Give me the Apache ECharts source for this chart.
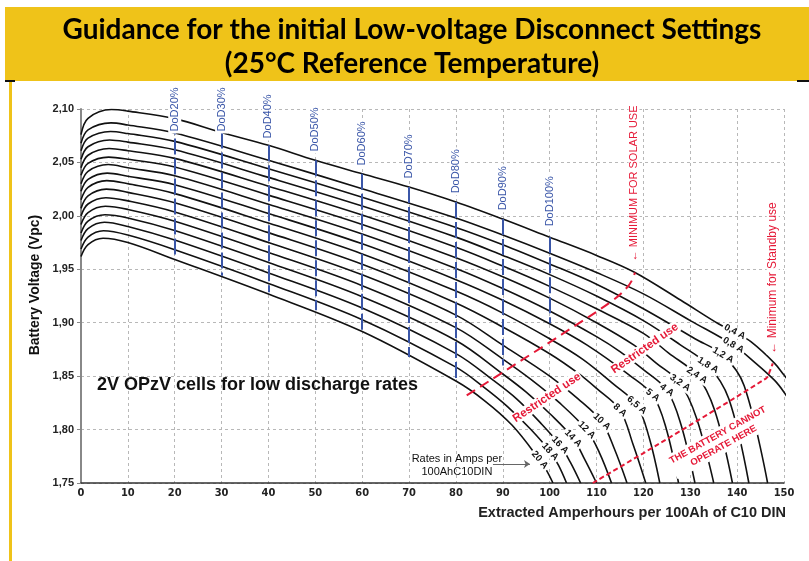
<!DOCTYPE html>
<html>
<head>
<meta charset="utf-8">
<script src="https://cdn.jsdelivr.net/npm/echarts@6/dist/echarts.min.js"></script>
<style>
  html, body { margin: 0; padding: 0; background: #fff; }
  #chart { width: 809px; height: 561px; }
</style>
</head>
<body>
<div id="chart"></div>
<script>
// discharge rates, one curve each (A per 100Ah C10)
var rates = ['0,4 A', '0,8 A', '1,2 A', '1,8 A', '2,4 A', '3,2 A', '4 A', '5 A',
  '6,5 A', '8 A', '10 A', '12 A', '14 A', '16 A', '18 A', '20 A'];

// [extracted Ah, cell voltage]
var c04 = [[0,2.076],[1.5,2.0913],[6.5,2.0995],[10,2.098],[20,2.091],[30,2.078],[40,2.066],[50,2.052],[60,2.0394],[70,2.027],[80,2.013],[90,1.997],[100,1.980],[110,1.963],[118,1.9475],[128,1.921],[136,1.899],[139.5,1.8914],[143,1.882],[148,1.862],[150,1.851],[153,1.835]];
var c08 = [[0,2.068],[1.5,2.0804],[6.4,2.087],[10,2.085],[20,2.0775],[40,2.052],[60,2.0254],[80,1.998],[90,1.982],[100,1.965],[110,1.947],[120,1.927],[130,1.902],[139.2,1.879],[144,1.862],[148,1.846],[150,1.835],[153,1.815]];
var c12 = [[0,2.061],[1.5,2.0727],[6.3,2.079],[10,2.077],[20,2.0697],[40,2.0441],[60,2.0174],[80,1.9892],[90,1.973],[100,1.955],[110,1.936],[120,1.913],[131,1.885],[137,1.8696],[141.5,1.841],[146.5,1.75]];
var c18 = [[0,2.053],[1.5,2.0647],[6.1,2.071],[10,2.069],[20,2.0618],[40,2.036],[60,2.0092],[80,1.9801],[90,1.963],[100,1.945],[110,1.925],[120,1.902],[127.8,1.8795],[133.8,1.8602],[138.2,1.829],[142.5,1.75]];
var c24 = [[0,2.045],[1.5,2.0567],[6,2.063],[10,2.061],[20,2.0538],[40,2.0278],[60,2.0007],[80,1.9706],[90,1.953],[100,1.934],[110,1.913],[120,1.890],[125.4,1.8715],[131.4,1.8508],[135.2,1.818],[139,1.75]];
var c32 = [[0,2.038],[1.5,2.0491],[5.9,2.055],[10,2.053],[20,2.0457],[40,2.0194],[60,1.992],[80,1.9609],[90,1.943],[100,1.923],[110,1.900],[118,1.879],[122.8,1.862],[127.8,1.8437],[131.4,1.81],[135,1.75]];
var c4 = [[0,2.030],[1.5,2.0417],[5.8,2.048],[10,2.045],[20,2.0375],[40,2.0109],[60,1.983],[80,1.9508],[90,1.932],[100,1.911],[110,1.887],[115,1.873],[120,1.856],[125,1.8369],[128,1.805],[131,1.75]];
var c5 = [[0,2.023],[1.5,2.0341],[5.6,2.040],[10,2.037],[20,2.0292],[40,2.0022],[60,1.9738],[80,1.9403],[90,1.921],[100,1.899],[108,1.879],[117,1.851],[122,1.8322],[124.8,1.802],[127.5,1.75]];
var c65 = [[0,2.015],[1.5,2.0267],[5.5,2.033],[10,2.030],[20,2.0208],[40,1.9933],[60,1.9644],[80,1.9296],[90,1.909],[100,1.885],[107,1.866],[113.5,1.843],[118.6,1.8229],[121.2,1.793],[123.5,1.75]];
var c8 = [[0,2.007],[1.5,2.0187],[5.4,2.025],[10,2.022],[20,2.0123],[40,1.9843],[60,1.9547],[80,1.9185],[90,1.896],[100,1.871],[106,1.853],[110,1.8385],[115,1.8182],[117.8,1.786],[120.5,1.75]];
var c10 = [[0,2.000],[1.5,2.0111],[5.3,2.017],[10,2.014],[20,2.0037],[40,1.9751],[60,1.9448],[80,1.9071],[90,1.879],[100,1.850],[106,1.829],[111.1,1.8073],[113.8,1.782],[116.5,1.75]];
var c12a = [[0,1.992],[1.5,2.0031],[5.2,2.009],[10,2.006],[20,1.995],[40,1.9658],[60,1.9347],[80,1.8954],[90,1.866],[96,1.847],[102,1.8254],[107.9,1.7995],[110.6,1.7785],[113.2,1.75]];
var c14 = [[0,1.984],[1.5,1.9951],[5.1,2.001],[10,1.998],[20,1.9862],[40,1.9563],[60,1.9243],[80,1.8834],[90,1.852],[95,1.835],[100,1.815],[105,1.7918],[107.5,1.7718],[110,1.75]];
var c16 = [[0,1.977],[1.5,1.9881],[5,1.994],[10,1.990],[20,1.9773],[40,1.9466],[60,1.9137],[80,1.8711],[88,1.846],[93,1.8285],[98,1.8065],[102.2,1.7855],[104.4,1.7695],[106.6,1.75]];
var c18a = [[0,1.969],[1.5,1.9801],[4.8,1.986],[10,1.982],[20,1.9683],[40,1.9368],[60,1.9028],[80,1.8584],[86,1.8395],[91,1.8215],[96,1.800],[100.1,1.7793],[101.9,1.7665],[103.6,1.75]];
var c20 = [[0,1.962],[1.5,1.9731],[4.7,1.979],[10,1.975],[20,1.9592],[40,1.9268],[60,1.8917],[80,1.8454],[86,1.8274],[92,1.804],[97.9,1.7715],[99.3,1.762],[100.7,1.75]];
var curves = [c04, c08, c12, c18, c24, c32, c4, c5, c65, c8, c10, c12a, c14, c16, c18a, c20];

// depth of discharge markers
var dodLevels = [20, 30, 40, 50, 60, 70, 80, 90, 100];
var dodTop = [2.091, 2.078, 2.066, 2.052, 2.0394, 2.027, 2.013, 1.997, 1.980];
var dodBottom = [1.9603, 1.944, 1.9285, 1.9117, 1.8914, 1.868, 1.845, 1.860, 1.8995];

// red limit lines
var solarLimit = [[82.3,1.832],[102.9,1.890],[113.5,1.921],[116.5,1.933],[117.6,1.940],[118.2,1.947]];
var standbyLimit = [[109.2,1.75],[146.2,1.848],[147.0,1.855],[147.6,1.862]];

var yTickLabels = ['1,75', '1,80', '1,85', '1,90', '1,95', '2,00', '2,05', '2,10'];
var xTickLabels = ['0', '10', '20', '30', '40', '50', '60', '70', '80', '90', '100', '110', '120', '130', '140', '150'];

// ---- layout of the annotations ----
var rateLabelAt = [[139.5,1.8914],[139.2,1.879],[137,1.8696],[133.8,1.8602],[131.4,1.8508],[127.8,1.8437],[125,1.8369],[122,1.8322],[118.6,1.8229],[115,1.8182],[111.1,1.8073],[107.9,1.7995],[105,1.7918],[102.2,1.7855],[100.1,1.7793],[97.9,1.7715]];
var rateLabelRot = [-28, -30, -30, -32, -33, -35, -37, -38, -40, -42, -44, -45, -46, -47, -48, -50];
var dodLabelV = [2.0771, 2.0771, 2.0706, 2.0584, 2.0453, 2.0332, 2.0192, 2.0033, 1.9883];

var RED = '#e51937';
var BLUE = '#3a56a8';
var SANS = "'Liberation Sans', Arial, sans-serif";
var NARROW = "'Liberation Sans Narrow', 'DejaVu Sans Condensed', 'Liberation Sans', sans-serif";

var chart = echarts.init(document.getElementById('chart'));

var curveSeries = rates.map(function (name, i) {
  return {
    name: name,
    type: 'line',
    data: curves[i],
    smooth: 0.35,
    symbol: 'none',
    silent: true,
    z: 2,
    lineStyle: { color: '#111', width: 1.6 }
  };
});

function note(pos, text, label) {
  return { value: pos, label: Object.assign({ show: true, formatter: text }, label) };
}

// text-only scatter: no symbol, full opacity so labels are not faded
var textOnly = { type: 'scatter', symbolSize: 0, silent: true, itemStyle: { opacity: 1, color: '#000' } };

var option = {
  animation: false,
  backgroundColor: '#fff',
  grid: { left: 81, right: 25, top: 109, bottom: 78 },
  xAxis: {
    type: 'value', min: 0, max: 150, interval: 10,
    name: 'Extracted Amperhours per 100Ah of C10 DIN',
    nameLocation: 'end', nameGap: 2,
    nameTextStyle: { fontFamily: SANS, fontWeight: 'bold', fontSize: 14.5, color: '#222',
      align: 'right', verticalAlign: 'top', padding: [22, 0, 0, 0] },
    axisLine: { lineStyle: { color: '#333', width: 1.5 } },
    axisTick: { show: false },
    axisLabel: { margin: 5, fontFamily: NARROW, fontWeight: 'bold', fontSize: 11, color: '#222',
      formatter: function (v) { return xTickLabels[Math.round(v / 10)]; } },
    splitLine: { show: true, lineStyle: { color: '#b8b8b8', type: [3, 3], width: 1 } }
  },
  yAxis: {
    type: 'value', min: 1.75, max: 2.10, interval: 0.05,
    name: 'Battery Voltage (Vpc)', nameLocation: 'middle', nameGap: 34,
    nameTextStyle: { fontFamily: SANS, fontWeight: 'bold', fontSize: 14, color: '#111',
      padding: [0, 0, 0, 22] },
    axisLine: { show: true, lineStyle: { color: '#888', width: 2 } },
    axisTick: { show: true, length: 4, lineStyle: { color: '#888' } },
    axisLabel: { margin: 7, fontFamily: SANS, fontWeight: 'bold', fontSize: 11, color: '#222',
      formatter: function (v) { return yTickLabels[Math.round((v - 1.75) / 0.05)]; } },
    splitLine: { show: true, lineStyle: { color: '#b8b8b8', type: [3, 3], width: 1 } }
  },
  graphic: [
    { type: 'rect', shape: { x: 5, y: 7, width: 804, height: 74 }, style: { fill: '#efc319' } },
    { type: 'rect', shape: { x: 5, y: 80, width: 10, height: 2 }, style: { fill: '#111' } },
    { type: 'rect', shape: { x: 797, y: 80, width: 12, height: 2 }, style: { fill: '#111' } },
    { type: 'rect', shape: { x: 9, y: 82, width: 3, height: 479 }, style: { fill: '#efc319' } },
    { type: 'text', x: 412, y: 13, style: {
      text: 'Guidance for the initial Low-voltage Disconnect Settings\n(25°C Reference Temperature)',
      fill: '#000', fontFamily: 'Lato', fontWeight: 'bold', fontSize: 28, lineHeight: 34,
      align: 'center', verticalAlign: 'top' } }
  ],
  series: curveSeries.concat([
    {
      name: 'DoD', type: 'lines', coordinateSystem: 'cartesian2d', silent: true, z: 3,
      lineStyle: { color: BLUE, width: 2, type: [16, 4], opacity: 1 },
      data: dodLevels.map(function (d, i) { return { coords: [[d, dodTop[i]], [d, dodBottom[i]]] }; })
    },
    {
      name: 'solar', type: 'line', data: solarLimit, smooth: 0.4, symbol: 'none', silent: true, z: 4,
      lineStyle: { color: RED, width: 2, type: [10, 6] }
    },
    {
      name: 'standby', type: 'line', data: standbyLimit, smooth: 0.4, symbol: 'none', silent: true, z: 4,
      lineStyle: { color: RED, width: 2, type: [5, 3] }
    },
    {
      name: 'arrow', type: 'lines', coordinateSystem: 'cartesian2d', silent: true, z: 4,
      symbol: ['none', 'arrow'], symbolSize: 6,
      lineStyle: { color: '#666', width: 1, opacity: 1 },
      data: [{ coords: [[87.9, 1.7678], [95.8, 1.7678]] }]
    },
    Object.assign({}, textOnly, {
      name: 'rateLabels', z: 6,
      label: { show: true, position: 'inside', color: '#111', fontFamily: SANS, fontWeight: 'bold',
        fontSize: 9.5, backgroundColor: '#fff', padding: [0, 2] },
      data: rateLabelAt.map(function (p, i) {
        return { value: p, label: { formatter: rates[i], rotate: rateLabelRot[i] } };
      })
    }),
    Object.assign({}, textOnly, {
      name: 'dodLabels', z: 6,
      label: { show: true, position: 'inside', align: 'left', verticalAlign: 'middle', rotate: 90,
        color: BLUE, fontFamily: SANS, fontSize: 11, backgroundColor: '#fff', padding: [1, 2] },
      data: dodLevels.map(function (d, i) {
        return { value: [d, dodLabelV[i]], label: { formatter: 'DoD' + d + '%' } };
      })
    }),
    Object.assign({}, textOnly, {
      name: 'notes', z: 7,
      label: { show: true, position: 'inside' },
      data: [
        note([3.4, 1.8416], '2V OPzV cells for low discharge rates',
          { align: 'left', color: '#111', fontFamily: SANS, fontWeight: 'bold', fontSize: 18 }),
        note([80.2, 1.7668], 'Rates in Amps per\n100AhC10DIN',
          { color: '#111', fontFamily: SANS, fontSize: 11, lineHeight: 13 }),
        note([99.4, 1.8299], 'Restricted use',
          { rotate: 34, color: RED, fontFamily: SANS, fontWeight: 'bold', fontSize: 11.5,
            backgroundColor: '#fff', padding: [0, 1] }),
        note([120.3, 1.8759], 'Restricted use',
          { rotate: 35, color: RED, fontFamily: SANS, fontWeight: 'bold', fontSize: 11.5,
            backgroundColor: '#fff', padding: [0, 1] }),
        note([136.5, 1.7898], 'THE BATTERY CANNOT\nOPERATE HERE',
          { rotate: 29, color: RED, fontFamily: SANS, fontWeight: 'bold', fontSize: 9.5, lineHeight: 12,
            backgroundColor: '#fff', padding: [1, 2] }),
        note([118.0, 1.9565], '\u2190 MINIMUM FOR SOLAR USE',
          { rotate: 90, align: 'left', verticalAlign: 'middle', color: RED, fontFamily: SANS, fontSize: 11,
            backgroundColor: '#fff', padding: [0, 1] }),
        note([147.6, 1.8701], '\u2190 Minimum for Standby use',
          { rotate: 90, align: 'left', verticalAlign: 'middle', color: RED, fontFamily: SANS, fontSize: 12,
            backgroundColor: '#fff', padding: [0, 1] })
      ]
    })
  ])
};

chart.setOption(option);
</script>
</body>
</html>
